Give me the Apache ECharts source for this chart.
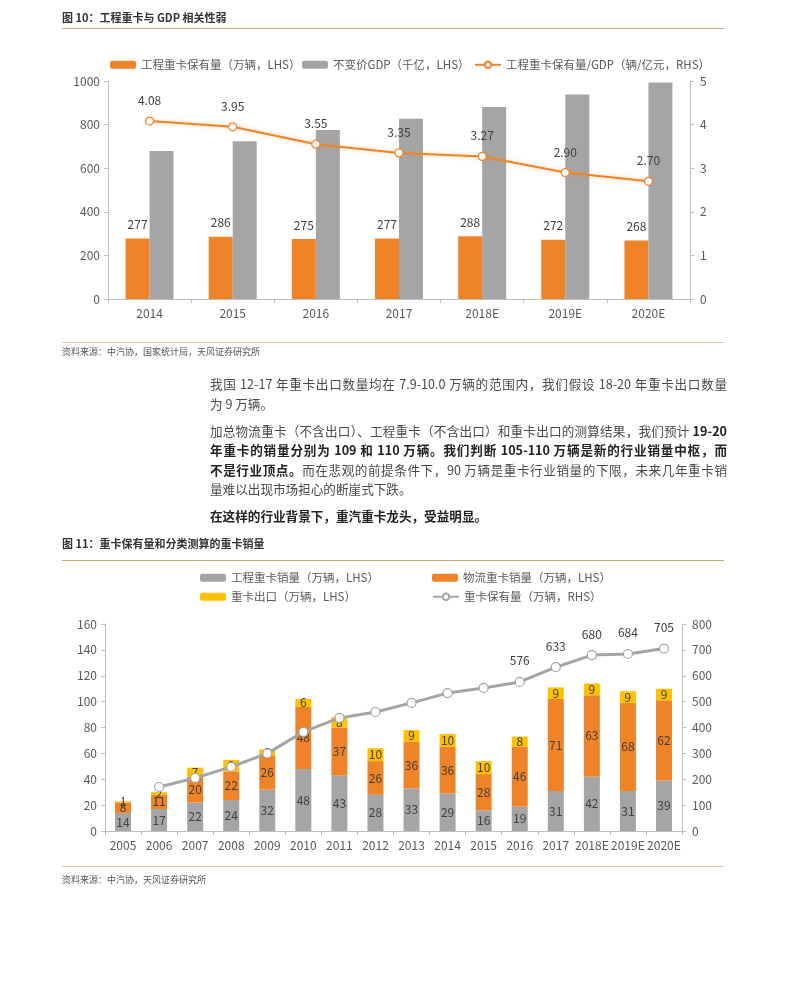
<!DOCTYPE html>
<html><head><meta charset="utf-8">
<script src="https://cdn.jsdelivr.net/npm/echarts@6/dist/echarts.min.js"></script>
<style>
html,body{margin:0;padding:0;background:#fff;}
body{width:794px;height:1003px;position:relative;overflow:hidden;font-family:"Noto Sans CJK SC","Noto Sans",sans-serif;}
#chart{position:absolute;left:0;top:0;width:794px;height:1003px;}
.t{position:absolute;left:62px;font-size:11px;font-weight:bold;color:#333;white-space:nowrap;line-height:14px;}
.rule{position:absolute;left:62px;width:662px;height:0;border-top:1.5px solid #c9a873;}
.rule2{position:absolute;left:62px;width:662px;height:0;border-top:1px solid #dcc69e;}
.src{position:absolute;left:62px;font-size:9px;color:#555;white-space:nowrap;line-height:12px;}
.para{position:absolute;left:210px;width:517px;font-size:12.6px;color:#4a4a4a;line-height:19.5px;}
.para .ln{white-space:nowrap;text-align:justify;text-align-last:justify;}
.para .last{white-space:nowrap;text-align:left;}
.para .gap{height:7.5px;}
.para b{color:#222;}
</style></head>
<body>
<div id="chart"></div>
<div class="t" style="top:10px;">图 10：工程重卡与 GDP 相关性弱</div>
<div class="rule" style="top:28px;"></div>
<div class="rule2" style="top:342px;"></div>
<div class="src" style="top:346px;">资料来源：中汽协，国家统计局，天风证券研究所</div>
<div class="para" style="top:374px;">
<div class="ln">我国 12-17 年重卡出口数量均在 7.9-10.0 万辆的范围内，我们假设 18-20 年重卡出口数量</div>
<div class="last">为 9 万辆。</div>
<div class="gap"></div>
<div class="ln">加总物流重卡（不含出口）、工程重卡（不含出口）和重卡出口的测算结果，我们预计 <b>19-20</b></div>
<div class="ln"><b>年重卡的销量分别为 109 和 110 万辆。我们判断 105-110 万辆是新的行业销量中枢，而</b></div>
<div class="ln"><b>不是行业顶点。</b>而在悲观的前提条件下，90 万辆是重卡行业销量的下限，未来几年重卡销</div>
<div class="last">量难以出现市场担心的断崖式下跌。</div>
<div class="gap"></div>
<div class="last"><b>在这样的行业背景下，重汽重卡龙头，受益明显。</b></div>
</div>
<div class="t" style="top:536px;">图 11：重卡保有量和分类测算的重卡销量</div>
<div class="rule" style="top:560px;"></div>
<div class="rule2" style="top:866px;"></div>
<div class="src" style="top:874px;">资料来源：中汽协，天风证券研究所</div>
<script>
// ---------- Chart 1 data ----------
var years1 = ['2014','2015','2016','2017','2018E','2019E','2020E'];
var stock1 = [277, 286, 275, 277, 288, 272, 268];
var gdp1 = [679, 724, 775, 827, 881, 938, 993];
var ratio1 = [4.08, 3.95, 3.55, 3.35, 3.27, 2.90, 2.70];
// ---------- Chart 2 data ----------
var years2 = ['2005','2006','2007','2008','2009','2010','2011','2012','2013','2014','2015','2016','2017','2018E','2019E','2020E'];
var eng2 = [14, 17, 22, 24, 32, 48, 43, 28, 33, 29, 16, 19, 31, 42, 31, 39];
var logi2 = [8, 11, 20, 22, 26, 48, 37, 26, 36, 36, 28, 46, 71, 63, 68, 62];
var exp2 = [1, 2, 7, 9, 5, 6, 8, 10, 9, 10, 10, 8, 9, 9, 9, 9];
var park2 = [null, 170, 205, 248, 300, 383, 437, 460, 495, 533, 553, 576, 633, 680, 684, 705];
var parkLabelFrom = '2016';

var ORANGE = '#EE8427', GRAY = '#A5A5A5', YELLOW = '#FFC000';
var AX = '#BFBFBF', TXT = '#595959';
var font = '"Noto Sans CJK SC","Noto Sans",sans-serif';

var chart = echarts.init(document.getElementById('chart'), null, {renderer:'canvas'});
var axisCommon = {
  axisLine:{show:true, lineStyle:{color:AX}},
  axisTick:{show:true, length:4, lineStyle:{color:AX}},
  splitLine:{show:false}
};
function yAx(grid, min, max, interval, pos, margin){
  return Object.assign({}, axisCommon, {type:'value', gridIndex:grid, min:min, max:max, interval:interval, position:pos,
    axisLabel:{color:TXT, fontSize:12, fontFamily:font, margin:margin, formatter:function(v){return String(v);}}});
}
var labelStyle = {color:'#404040', fontSize:12, fontFamily:font};
var legendText = {color:TXT, fontSize:11.5, fontFamily:font};
function lg(left, top, name){
  return {left:left, top:top, itemWidth:26, itemHeight:8, textStyle:legendText, data:[name]};
}

var parkIdx = years2.indexOf(parkLabelFrom);
var parkData = park2.map(function(v,i){
  return {value:v, label:{show: i>=parkIdx}};
});

var option = {
  animation:false,
  textStyle:{fontFamily:font},
  grid:[
    {left:108, right:104, top:81, height:218},
    {left:105, right:112, top:624, height:207}
  ],
  legend:[
    lg(105, 54, '工程重卡保有量（万辆，LHS）'),
    lg(297, 54, '不变价GDP（千亿，LHS）'),
    lg(469, 54, '工程重卡保有量/GDP（辆/亿元，RHS）'),
    lg(195, 567, '工程重卡销量（万辆，LHS）'),
    lg(427, 567, '物流重卡销量（万辆，LHS）'),
    lg(195, 586, '重卡出口（万辆，LHS）'),
    lg(427, 586, '重卡保有量（万辆，RHS）')
  ],
  xAxis:[
    Object.assign({}, axisCommon, {type:'category', gridIndex:0, data:years1, axisLabel:{color:TXT,fontSize:12,fontFamily:font,margin:8}}),
    Object.assign({}, axisCommon, {type:'category', gridIndex:1, data:years2, axisLabel:{color:TXT,fontSize:12,fontFamily:font,margin:8,interval:0}})
  ],
  yAxis:[
    yAx(0, 0, 1000, 200, 'left', 8),
    yAx(0, 0, 5, 1, 'right', 10),
    yAx(1, 0, 160, 20, 'left', 8),
    yAx(1, 0, 800, 100, 'right', 10)
  ],
  series:[
    {name:'工程重卡保有量（万辆，LHS）', type:'bar', xAxisIndex:0, yAxisIndex:0, data:stock1,
     barWidth:24, barGap:'0%', itemStyle:{color:ORANGE},
     label:{show:true, position:'top', distance:8, color:'#404040', fontSize:12, fontFamily:font}},
    {name:'不变价GDP（千亿，LHS）', type:'bar', xAxisIndex:0, yAxisIndex:0, data:gdp1,
     barWidth:24, barGap:'0%', itemStyle:{color:GRAY}},
    {name:'工程重卡保有量/GDP（辆/亿元，RHS）', type:'line', xAxisIndex:0, yAxisIndex:1, data:ratio1,
     symbol:'circle', symbolSize:8, lineStyle:{color:ORANGE, width:2, shadowColor:'rgba(238,132,39,0.45)', shadowBlur:4},
     itemStyle:{color:'#fff', borderColor:ORANGE, borderWidth:1.2},
     label:{show:true, position:'top', distance:10, color:'#404040', fontSize:12, fontFamily:font,
       formatter:function(p){return p.value.toFixed(2);}}},
    {name:'工程重卡销量（万辆，LHS）', type:'bar', stack:'s', xAxisIndex:1, yAxisIndex:2, data:eng2, barWidth:16,
     itemStyle:{color:GRAY}, label:Object.assign({show:true, position:'inside'}, labelStyle)},
    {name:'物流重卡销量（万辆，LHS）', type:'bar', stack:'s', xAxisIndex:1, yAxisIndex:2, data:logi2, barWidth:16,
     itemStyle:{color:ORANGE}, label:Object.assign({show:true, position:'inside'}, labelStyle)},
    {name:'重卡出口（万辆，LHS）', type:'bar', stack:'s', xAxisIndex:1, yAxisIndex:2, data:exp2, barWidth:16,
     itemStyle:{color:YELLOW}, label:Object.assign({show:true, position:'inside'}, labelStyle)},
    {name:'重卡保有量（万辆，RHS）', type:'line', xAxisIndex:1, yAxisIndex:3, data:parkData,
     symbol:'circle', symbolSize:9, lineStyle:{color:GRAY, width:3},
     itemStyle:{color:'#fff', borderColor:GRAY, borderWidth:1.2},
     label:{position:'top', distance:10, color:'#404040', fontSize:12, fontFamily:font}}
  ]
};
chart.setOption(option);
</script>
</body></html>
